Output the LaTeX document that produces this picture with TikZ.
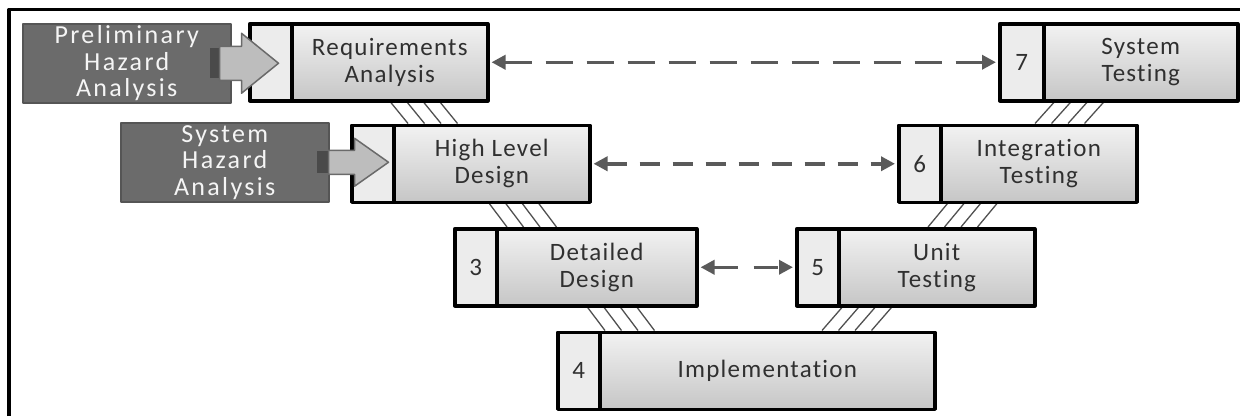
\documentclass[tikz,border=0pt]{standalone}
\usepackage{fontspec}
\setmainfont{Carlito}
\newfontfamily\stagefont[LetterSpace=5,Ligatures=NoCommon]{Carlito}
\newfontfamily\hazfont[LetterSpace=9,Ligatures=NoCommon]{Carlito}
\usetikzlibrary{arrows.meta,calc}
\definecolor{hazfill}{HTML}{6B6B6B}
\definecolor{hazedge}{HTML}{555555}
\definecolor{hazwhite}{HTML}{F5F5F5}
\definecolor{numgray}{HTML}{ECECEC}
\definecolor{celltop}{HTML}{F2F2F2}
\definecolor{cellbottom}{HTML}{C6C6C6}
\definecolor{stagetext}{HTML}{303030}
\definecolor{hatchgray}{HTML}{505050}
\definecolor{arrowgray}{HTML}{5A5A5A}
\definecolor{blockfill}{HTML}{BDBDBD}
\definecolor{blockedge}{HTML}{6A6A6A}
\definecolor{stubgray}{HTML}{4A4A4A}
\begin{document}
\begin{tikzpicture}[x=1pt, y=-1pt, line join=round]
			\tikzset{numcell/.style={draw=black, line width=3.5pt, fill=numgray, minimum width=42pt, minimum height=77pt, inner sep=0pt, anchor=north west, text=stagetext, font={\stagefont\fontsize{25}{27}\selectfont}},
				stagecell/.style={draw=black, line width=3.5pt, top color=celltop, bottom color=cellbottom, minimum width=196pt, minimum height=77pt, inner sep=0pt, anchor=north west, align=center, text=stagetext, font={\stagefont\fontsize{25}{27}\selectfont}},
				hazbox/.style={draw=hazedge, line width=1.5pt, fill=hazfill, minimum width=208pt, minimum height=79pt, inner sep=0pt, anchor=north west, align=center, text=hazwhite, font={\hazfont\fontsize{26}{26.5}\selectfont}},
				hatch/.style={draw=hatchgray, line width=1.3pt},
				dasharrow/.style={draw=arrowgray, line width=3.5pt, shorten <=2pt, shorten >=2pt, {Triangle[length=14pt,width=14pt]}-{Triangle[length=14pt,width=14pt]}},
				blockarrow/.style={draw=blockedge, line width=1.5pt, fill=blockfill}}
			\useasboundingbox (0,0) rectangle (1240,416);
			\draw[line width=3.5pt] (9,416)--(9,9.5)--(1240,9.5);
			\coordinate (req-n) at (248,22);
			\coordinate (hld-n) at (350,123.5);
			\coordinate (dd-n) at (453,227);
			\coordinate (imp-n) at (556,330.5);
			\coordinate (ut-n) at (795,227);
			\coordinate (it-n) at (897,123.5);
			\coordinate (st-n) at (998,22);
			\foreach \i in {0,...,3}{
				\draw[hatch] ($(req-n)+({140+16.5*\i},77)$)--($(hld-n)+({58+16.5*\i},0)$);
				\draw[hatch] ($(hld-n)+({137+16.5*\i},77)$)--($(dd-n)+({54+16.5*\i},0)$);
				\draw[hatch] ($(dd-n)+({132+16.5*\i},77)$)--($(imp-n)+({49+16.5*\i},0)$);
				\draw[hatch] ($(imp-n)+({266+16.5*\i},0)$)--($(ut-n)+({50+16.5*\i},77)$);
				\draw[hatch] ($(ut-n)+({133+16.5*\i},0)$)--($(it-n)+({53+16.5*\i},77)$);
				\draw[hatch] ($(it-n)+({138+16.5*\i},0)$)--($(st-n)+({59+16.5*\i},77)$);
			}
			\node[numcell] (req-num) at (req-n) {};
			\node[stagecell] (req) at (290,22) {Requirements\\Analysis};
			\node[numcell] (hld-num) at (hld-n) {};
			\node[stagecell] (hld) at (392,123.5) {High Level\\Design};
			\node[numcell] (dd-num) at (dd-n) {3};
			\node[stagecell, minimum width=200pt] (dd) at (495,227) {Detailed\\Design};
			\node[numcell] (imp-num) at (imp-n) {4};
			\node[stagecell, minimum width=335pt] (imp) at (598,330.5) {Implementation};
			\node[numcell] (ut-num) at (ut-n) {5};
			\node[stagecell] (ut) at (837,227) {Unit\\Testing};
			\node[numcell] (it-num) at (it-n) {6};
			\node[stagecell] (it) at (939,123.5) {Integration\\Testing};
			\node[numcell, minimum width=44pt] (st-num) at (st-n) {7};
			\node[stagecell, minimum width=194pt] (st) at (1042,22) {System\\Testing};
			\draw[dasharrow, dash pattern=on 27pt off 14pt] (req.east)--(st-num.west);
			\draw[dasharrow, dash pattern=on 20pt off 13pt] (hld.east)--(it-num.west);
			\draw[dasharrow, dash pattern=on 24pt off 16pt] (dd.east)--(ut-num.west);
			\node[hazbox] (pha) at (22,23) {Preliminary\\Hazard\\Analysis};
			\node[hazbox] (sha) at (120,122) {System\\Hazard\\Analysis};
			\coordinate (pha-tip) at ($(pha.east)+(47,0)$);
			\coordinate (sha-tip) at ($(sha.east)+(59,0)$);
			\fill[stubgray] ($(pha.east)+(-22,-15)$) rectangle ($(pha.east)+(-12,15)$);
			\draw[blockarrow] ($(pha.east)+(-12,-17)$)--($(pha-tip)+(-37,-17)$)--($(pha-tip)+(-37,-30)$)--(pha-tip)--($(pha-tip)+(-37,30)$)--($(pha-tip)+(-37,17)$)--($(pha.east)+(-12,17)$)--cycle;
			\fill[stubgray] ($(sha.east)+(-13,-11)$) rectangle ($(sha.east)+(-1,11)$);
			\draw[blockarrow] ($(sha.east)+(-1,-12)$)--($(sha-tip)+(-34,-12)$)--($(sha-tip)+(-34,-24)$)--(sha-tip)--($(sha-tip)+(-34,24)$)--($(sha-tip)+(-34,12)$)--($(sha.east)+(-1,12)$)--cycle;
		\end{tikzpicture}
\end{document}
